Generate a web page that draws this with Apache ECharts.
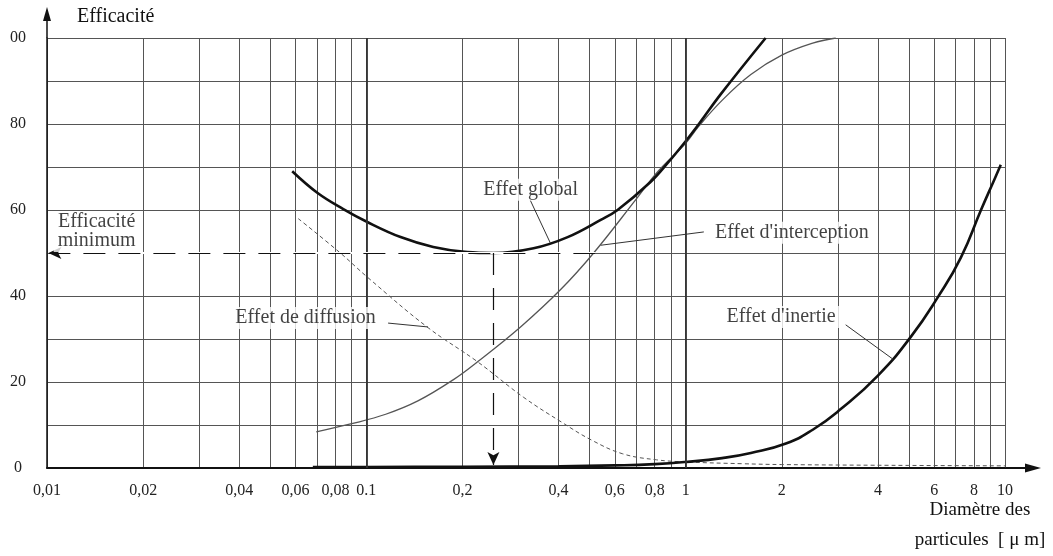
<!DOCTYPE html>
<html>
<head>
<meta charset="utf-8">
<title>Efficacité</title>
<script src="https://cdn.jsdelivr.net/npm/echarts@6/dist/echarts.min.js"></script>
<style>
html, body { margin: 0; background: #fff; }
#main { width: 1053px; height: 556px; }
</style>
</head>
<body>
<div id="main"></div>
<script>
// axes
var xTickValues = [0.01, 0.02, 0.04, 0.06, 0.08, 0.1, 0.2, 0.4, 0.6, 0.8, 1, 2, 4, 6, 8, 10];
var xTickLabels = ['0,01', '0,02', '0,04', '0,06', '0,08', '0.1', '0,2', '0,4', '0,6', '0,8', '1', '2', '4', '6', '8', '10'];
var xGridValues = [0.01, 0.02, 0.03, 0.04, 0.05, 0.06, 0.07, 0.08, 0.09,
                   0.1, 0.2, 0.3, 0.4, 0.5, 0.6, 0.7, 0.8, 0.9,
                   1, 2, 3, 4, 5, 6, 7, 8, 9, 10];
var xDecades = [0.1, 1];
var yTickValues = [0, 20, 40, 60, 80, 100];
var yTickLabels = ['0', '20', '40', '60', '80', '00'];

// courbes [diamètre µm, efficacité %]
var effetGlobal = [[0.0586, 69], [0.0702, 64], [0.0847, 60.2], [0.1007, 57.2], [0.128, 53.7],
                   [0.162, 51.4], [0.207, 50.2], [0.25, 50], [0.334, 51.1], [0.427, 53.7],
                   [0.542, 57.7], [0.612, 60], [0.776, 66.5], [0.88, 71], [1.0, 76],
                   [1.1, 80], [1.29, 87], [1.78, 100]];
var effetInterception = [[0.0697, 8.4], [0.09, 10.3], [0.115, 12.5], [0.145, 15.6], [0.187, 20.5],
                         [0.223, 24.7], [0.304, 32.8], [0.406, 41.5], [0.515, 50], [0.708, 63],
                         [0.82, 69], [1.0, 75.5], [1.1, 79.5], [1.3, 85.5], [1.6, 91.5],
                         [2.0, 96], [2.5, 98.8], [2.95, 100]];
var effetDiffusion = [[0.0612, 58], [0.0829, 50], [0.1007, 44.4], [0.155, 32.8], [0.223, 24.7],
                      [0.31, 16.5], [0.408, 10.7], [0.507, 6.5], [0.635, 3.3], [0.811, 1.9],
                      [1.01, 1.4], [1.5, 1.0], [2, 0.8], [5, 0.6], [10, 0.5]];
var effetInertie = [[0.068, 0.2], [0.1, 0.25], [0.2, 0.3], [0.4, 0.4], [0.6, 0.6], [0.8, 0.9],
                    [1.0, 1.4], [1.3, 2.3], [1.6, 3.5], [2.06, 5.7], [2.5, 8.9], [3.06, 13.7],
                    [4.0, 21.5], [5.07, 30.5], [6.17, 39.8], [7.28, 49],
                    [8.41, 60], [9.25, 67], [9.7, 70.5]];

// textes et traits de rappel
var notes = [[0.327, 64.7, 'Effet global'],
             [2.15, 54.7, "Effet d'interception"],
             [0.0645, 34.9, 'Effet de diffusion'],
             [1.99, 35.1, "Effet d'inertie"],
             [0.0143, 57.2, 'Efficacité'],
             [0.0143, 52.8, 'minimum']];
var leaders = [[[0.326, 62.3], [0.377, 52.3]],
               [[1.14, 54.9], [0.542, 51.8]],
               [[0.117, 33.7], [0.156, 32.8]],
               [[3.17, 33.3], [4.46, 25.3]]];
var minimumLine = [[0.0101, 50], [0.52, 50]];
var minimumDrop = [[0.25, 50], [0.25, 0.7]];

var serif = "'Liberation Serif', 'DejaVu Serif', serif";
var ink = '#111';

var myChart = echarts.init(document.getElementById('main'));

var option = {
    animation: false,
    backgroundColor: '#fff',
    grid: { left: 47, right: 48, top: 38, bottom: 88, outerBoundsMode: 'none' },
    xAxis: {
        type: 'log',
        logBase: 10,
        min: 0.01,
        max: 10,
        axisLine: { show: true, onZero: false, lineStyle: { color: ink, width: 2 } },
        axisTick: { show: false, customValues: xGridValues },
        axisLabel: {
            customValues: xTickValues,
            margin: 15,
            color: '#222',
            fontSize: 16,
            fontFamily: serif,
            formatter: function (v) {
                for (var i = 0; i < xTickValues.length; i++) {
                    if (Math.abs(v / xTickValues[i] - 1) < 1e-6) return xTickLabels[i];
                }
                return '';
            }
        },
        splitLine: { show: true, lineStyle: { color: '#555', width: 1 } }
    },
    yAxis: {
        type: 'value',
        min: 0,
        max: 100,
        interval: 10,
        name: 'Efficacité',
        nameLocation: 'end',
        nameGap: 21,
        nameTextStyle: { align: 'left', verticalAlign: 'middle', padding: [0, 0, 0, 30], fontSize: 20, color: ink, fontFamily: serif },
        axisLine: { show: true, lineStyle: { color: ink, width: 1.5 } },
        axisTick: { show: false },
        axisLabel: {
            customValues: yTickValues,
            margin: 29,
            align: 'center',
            color: '#222',
            fontSize: 16,
            fontFamily: serif,
            formatter: function (v) {
                var i = yTickValues.indexOf(v);
                return i >= 0 ? yTickLabels[i] : '';
            }
        },
        splitLine: { show: true, lineStyle: { color: '#555', width: 1 } }
    },
    series: [
        {
            name: 'Effet de diffusion',
            type: 'line',
            data: effetDiffusion,
            smooth: 0.4,
            showSymbol: false,
            silent: true,
            lineStyle: { color: '#555', width: 1, type: [4, 3] },
            markLine: {
                silent: true,
                symbol: 'none',
                label: { show: false },
                lineStyle: { color: '#333', width: 1.8, type: 'solid' },
                data: xDecades.map(function (d) { return { xAxis: d }; }).concat([
                    // la ligne de grille à 50 % est interrompue sous le tireté
                    [{ coord: minimumLine[0], lineStyle: { color: '#fff', width: 2 } }, { coord: minimumLine[1] }]
                ])
            }
        },
        {
            name: "Effet d'interception",
            type: 'line',
            data: effetInterception,
            smooth: 0.4,
            showSymbol: false,
            silent: true,
            lineStyle: { color: '#555', width: 1.3 },
            markLine: {
                silent: true,
                label: { show: false },
                symbolSize: [9, 13],
                lineStyle: { color: ink, width: 1.2, type: [22, 13] },
                data: [
                    [{ coord: minimumLine[0], symbol: 'arrow' }, { coord: minimumLine[1], symbol: 'none' }],
                    [{ coord: minimumDrop[0], symbol: 'none' }, { coord: minimumDrop[1], symbol: 'arrow' }]
                ]
            }
        },
        {
            name: 'Effet global',
            type: 'line',
            data: effetGlobal,
            smooth: 0.4,
            showSymbol: false,
            silent: true,
            lineStyle: { color: ink, width: 2.6 }
        },
        {
            name: "Effet d'inertie",
            type: 'line',
            data: effetInertie,
            smooth: 0.5,
            showSymbol: false,
            silent: true,
            lineStyle: { color: ink, width: 2.6 }
        },
        {
            name: 'notes',
            type: 'scatter',
            z: 5,
            symbolSize: 0,
            silent: true,
            data: notes,
            label: {
                show: true,
                position: 'inside',
                formatter: function (p) { return p.value[2]; },
                color: ink,
                fontSize: 20,
                fontFamily: serif,
                backgroundColor: '#fff',
                padding: [1, 4]
            },
            markLine: {
                silent: true,
                symbol: 'none',
                label: { show: false },
                lineStyle: { color: '#333', width: 1, type: 'solid' },
                data: leaders.map(function (l) { return [{ coord: l[0] }, { coord: l[1] }]; })
            }
        }
    ],
    graphic: [
        { type: 'line', shape: { x1: 47, y1: 38, x2: 47, y2: 16 }, style: { stroke: ink, lineWidth: 1.5 } },
        { type: 'polygon', shape: { points: [[47, 7], [43, 21], [51, 21]] }, style: { fill: ink } },
        { type: 'line', shape: { x1: 1005, y1: 468, x2: 1030, y2: 468 }, style: { stroke: ink, lineWidth: 2 } },
        { type: 'polygon', shape: { points: [[1041, 468], [1025, 463.5], [1025, 472.5]] }, style: { fill: ink } },
        {
            type: 'text', x: 980, y: 525,
            style: {
                text: 'Diamètre des\nparticules  [ μ m]',
                font: '19px ' + serif,
                fill: ink,
                textAlign: 'center',
                textVerticalAlign: 'middle',
                lineHeight: 30
            }
        }
    ]
};

myChart.setOption(option);
</script>
</body>
</html>
